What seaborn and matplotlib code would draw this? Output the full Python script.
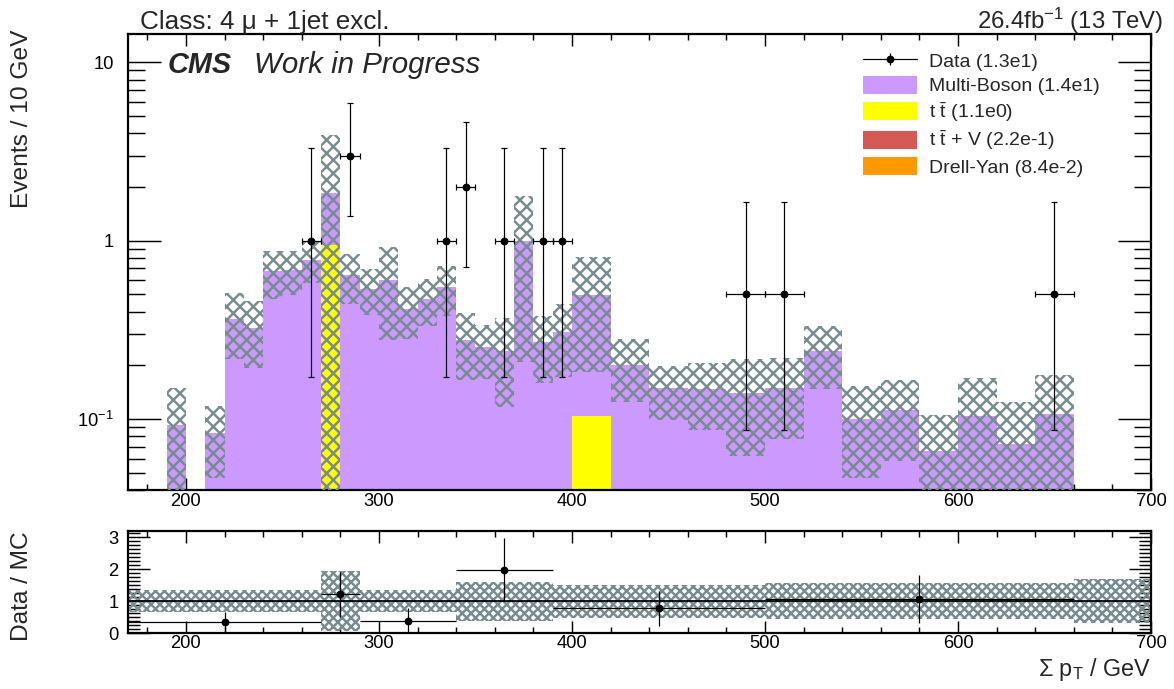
import numpy as np
import pandas as pd
import matplotlib
matplotlib.use("Agg")
import matplotlib.pyplot as plt
import seaborn as sns
from matplotlib.patches import Patch
from matplotlib.lines import Line2D
from matplotlib.legend_handler import HandlerTuple
from matplotlib.ticker import MultipleLocator, FixedLocator, FuncFormatter, LogLocator, NullFormatter

# ---- binning (GeV) and yields per 10 GeV ----
bin_edges = [190, 200, 210, 220, 230, 240, 250, 260, 270, 280, 290, 300, 310, 320,
             330, 340, 350, 360, 370, 380, 390, 400, 420, 440, 460, 480, 500, 520,
             540, 560, 580, 600, 620, 640, 660]

multi_boson = [0.093, 0.0, 0.083, 0.334, 0.324, 0.653, 0.662, 0.762, 0.90, 0.614,
               0.518, 0.569, 0.401, 0.473, 0.521, 0.263, 0.252, 0.242, 0.975, 0.269,
               0.306, 0.3945, 0.202, 0.139, 0.147, 0.140, 0.149, 0.230, 0.100, 0.112,
               0.066, 0.0935, 0.072, 0.107]
ttbar = [0, 0, 0, 0, 0, 0, 0, 0, 0.95, 0,
         0, 0, 0, 0, 0, 0, 0, 0, 0, 0,
         0, 0.1035, 0, 0, 0, 0, 0, 0, 0, 0,
         0, 0, 0, 0]
ttbar_v = [0, 0, 0, 0, 0, 0.02, 0.025, 0.02, 0, 0,
           0.02, 0.03, 0.015, 0, 0, 0.015, 0, 0, 0.015, 0,
           0, 0, 0, 0.01, 0, 0, 0, 0.01, 0, 0,
           0, 0.01, 0, 0]
drell_yan = [0, 0, 0, 0.03, 0, 0, 0, 0, 0, 0.025,
             0, 0, 0, 0, 0.029, 0, 0, 0, 0, 0,
             0, 0, 0, 0, 0, 0, 0, 0, 0, 0,
             0, 0, 0, 0]
# total MC uncertainty per bin (per 10 GeV)
mc_unc = [0.056, 0.0, 0.036, 0.147, 0.132, 0.20, 0.19, 0.20, 2.08, 0.20,
          0.155, 0.32, 0.135, 0.14, 0.17, 0.113, 0.085, 0.125, 0.78, 0.11,
          0.135, 0.315, 0.078, 0.05, 0.06, 0.078, 0.072, 0.093, 0.053, 0.054,
          0.04, 0.066, 0.053, 0.07]

# observed data (per 10 GeV) with Poisson intervals
data_x = [265, 285, 335, 345, 365, 385, 395, 490, 510, 650]
data_halfwidth = [5, 5, 5, 5, 5, 5, 5, 10, 10, 10]
data_y = [1, 3, 1, 2, 1, 1, 1, 0.5, 0.5, 0.5]
data_lo = [0.173, 1.37, 0.173, 0.708, 0.173, 0.173, 0.173, 0.0865, 0.0865, 0.0865]
data_hi = [3.30, 5.92, 3.30, 4.64, 3.30, 3.30, 3.30, 1.65, 1.65, 1.65]

# ratio panel
ratio_edges = [170, 270, 290, 340, 390, 500, 660, 700]
ratio_unc = [0.34, 0.93, 0.35, 0.61, 0.52, 0.56, 0.70]
ratio_x = [220, 280, 315, 365, 445, 580]
ratio_xerr = [50, 10, 25, 25, 55, 80]
ratio_y = [0.333, 1.21, 0.39, 1.98, 0.78, 1.06]
ratio_yerr = [0.333, 0.70, 0.39, 0.985, 0.55, 0.745]

process_names = ["Multi-Boson", "ttbar", "ttbarV", "Drell-Yan"]
legend_labels = ["Multi-Boson (1.4e1)", r"t $\bar{\mathrm{t}}$ (1.1e0)",
                 r"t $\bar{\mathrm{t}}$ + V (2.2e-1)", "Drell-Yan (8.4e-2)"]
data_label = "Data (1.3e1)"
colors = ["#CC99FF", "#FFFF00", "#D55A55", "#FF9900"]
HATCH = "#778C90"

# ---- style ----
sns.set_theme(style="ticks")
plt.rcParams["font.family"] = ["Liberation Sans", "DejaVu Sans"]
plt.rcParams["mathtext.fontset"] = "custom"
plt.rcParams["mathtext.rm"] = "Liberation Sans"
plt.rcParams["mathtext.it"] = "Liberation Sans:italic"
plt.rcParams["mathtext.bf"] = "Liberation Sans:bold"
plt.rcParams["hatch.linewidth"] = 2.2
plt.rcParams["hatch.color"] = HATCH

W, H, DPI = 1174, 689, 80
fig = plt.figure(figsize=(W / DPI, H / DPI), dpi=DPI)
ax = fig.add_axes([128 / W, 1 - 490 / H, 1023 / W, 456 / H])
rax = fig.add_axes([128 / W, 1 - 633 / H, 1023 / W, 102 / H])

edges = np.array(bin_edges, dtype=float)
centers = 0.5 * (edges[:-1] + edges[1:])
widths = np.diff(edges)

frames = []
for name, vals in zip(process_names, [multi_boson, ttbar, ttbar_v, drell_yan]):
    frames.append(pd.DataFrame({"sumpt": centers, "events": vals, "process": name}))
df = pd.concat(frames, ignore_index=True)

# stacked backgrounds (first hue level ends up on top of the stack)
sns.histplot(data=df, x="sumpt", weights="events", hue="process",
             hue_order=process_names, palette=colors, bins=list(bin_edges),
             multiple="stack", element="bars", stat="count", alpha=1,
             linewidth=0, legend=False, ax=ax)

total = (np.array(multi_boson) + np.array(ttbar) + np.array(ttbar_v)
         + np.array(drell_yan))
unc = np.array(mc_unc)
lo = np.clip(total - unc, 1e-4, None)
hi = total + unc
m = total > 0
ax.bar(edges[:-1][m], (hi - lo)[m], width=widths[m], bottom=lo[m], align="edge",
       facecolor="none", edgecolor=HATCH, linewidth=0, hatch="xx", zorder=3)

dy = np.array(data_y)
ax.errorbar(data_x, dy, xerr=data_halfwidth,
            yerr=[dy - np.array(data_lo), np.array(data_hi) - dy],
            fmt="o", color="black", ms=6, elinewidth=1.1, capsize=2.5,
            capthick=1.1, zorder=5)

ax.set_yscale("log")
ax.set_xlim(170, 700)
ax.set_ylim(0.04, 14.4)
ax.set_xlabel("")
ax.set_ylabel("")

ylab = {10: "10", 1: "1", 0.1: r"$10^{-1}$"}
ax.yaxis.set_major_locator(FixedLocator([0.1, 1, 10]))
ax.yaxis.set_major_formatter(FuncFormatter(lambda v, p: ylab.get(round(v, 3), "")))
ax.yaxis.set_minor_locator(LogLocator(base=10, subs=np.arange(2, 10)))
ax.yaxis.set_minor_formatter(NullFormatter())

for a in (ax, rax):
    a.xaxis.set_major_locator(MultipleLocator(100))
    a.xaxis.set_minor_locator(MultipleLocator(20))
    a.set_xlim(170, 700)
    for s in a.spines.values():
        s.set_linewidth(2.0)
        s.set_color("black")
    a.tick_params(which="both", direction="in", top=True, right=True,
                  color="black", labelcolor="black", labelsize=16.5, width=1.3)
    a.tick_params(axis="x", which="major", length=11, pad=3)
    a.tick_params(axis="x", which="minor", length=5.5)

ax.tick_params(axis="y", which="major", length=30, pad=12.5)
ax.tick_params(axis="y", which="minor", length=15)

# ratio panel
r_edges = np.array(ratio_edges, dtype=float)
r_unc = np.array(ratio_unc)
rax.bar(r_edges[:-1], 2 * r_unc, width=np.diff(r_edges), bottom=1 - r_unc,
        align="edge", facecolor="none", edgecolor=HATCH, linewidth=0,
        hatch="xxx", zorder=2)
rax.axhline(1, color="black", lw=1.6, zorder=3)
rax.errorbar(ratio_x, ratio_y, xerr=ratio_xerr, yerr=ratio_yerr, fmt="o",
             color="black", ms=6, elinewidth=1.1, capsize=0, zorder=4)
rax.set_ylim(0, 3.2)
rax.yaxis.set_major_locator(FixedLocator([0, 1, 2, 3]))
rax.yaxis.set_minor_locator(MultipleLocator(0.125))
rax.tick_params(axis="y", which="major", length=19.5, pad=8.5)
rax.tick_params(axis="y", which="minor", length=10.5)
rax.tick_params(axis="x", which="major", pad=2)
rax.set_xlabel("")
rax.set_ylabel("")

# legend
data_handle = (Line2D([], [], color="black", lw=1.1),
               Line2D([], [], ls="none", marker="|", ms=11, mew=1.1, color="black"),
               Line2D([], [], ls="none", marker="o", ms=6, color="black"))
handles = [data_handle] + [Patch(facecolor=c, edgecolor="none") for c in colors]
labels = [data_label] + legend_labels
ax.legend(handles, labels, loc="upper left",
          bbox_to_anchor=((863 - 128) / 1023, (490 - 51) / 456),
          frameon=False, fontsize=17.5, borderpad=0, borderaxespad=0,
          handlelength=2.8, handleheight=1.05, handletextpad=0.6,
          labelspacing=0.25, handler_map={tuple: HandlerTuple(ndivide=1)})

# header texts and axis titles
fig.text(140 / W, 1 - 29.3 / H, "Class: 4 μ + 1jet excl.", fontsize=23.5,
         ha="left", va="baseline")
fig.text(1163 / W, 1 - 29.3 / H, r"26.4fb$^{-1}$ (13 TeV)", fontsize=21.5,
         ha="right", va="baseline")
fig.text(168 / W, 1 - 73.3 / H, "CMS", fontsize=26, fontweight="bold",
         fontstyle="italic", ha="left", va="baseline")
fig.text(254 / W, 1 - 73.3 / H, "Work in Progress", fontsize=26.5,
         fontstyle="italic", ha="left", va="baseline")
fig.text(22 / W, 1 - 30 / H, "Events / 10 GeV", fontsize=22, rotation=90,
         ha="center", va="top")
fig.text(22 / W, 1 - 531 / H, "Data / MC", fontsize=22, rotation=90,
         ha="center", va="top")
fig.text(1151 / W, 1 - 676 / H, r"$\Sigma$ p$_\mathrm{T}$ / GeV", fontsize=21,
         ha="right", va="baseline")

fig.savefig("out.png", dpi=DPI)
